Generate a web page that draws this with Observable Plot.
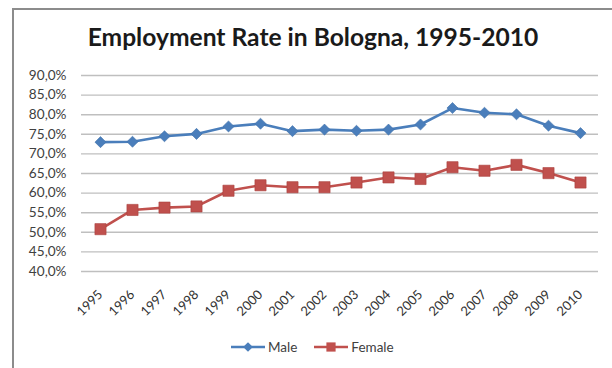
<!DOCTYPE html>
<html>
<head>
<meta charset="utf-8">
<script src="https://cdn.jsdelivr.net/npm/d3@7"></script>
<script src="https://cdn.jsdelivr.net/npm/@observablehq/plot@0.6"></script>
<style>
  html, body { margin: 0; padding: 0; background: #fff; }
  #chart { position: relative; width: 612px; height: 368px; overflow: hidden; font-family: Lato, "Open Sans", sans-serif; }
  #frame { position: absolute; left: 12px; top: 8px; width: 700px; height: 500px;
           border-left: 2px solid #8c8c8c; border-top: 2px solid #8c8c8c; }
  #title { position: absolute; left: 0; width: 626px; top: 25px; line-height: 24px;
           text-align: center; font-size: 24.6px; font-weight: 700; color: #1a1a1a; }
  #plot { position: absolute; left: 0; top: 60px; }
  #legend { position: absolute; left: 231px; top: 338px; height: 18px; display: flex; align-items: center;
            font-size: 13.5px; color: #404040; }
  .item { display: flex; align-items: center; margin-right: 17px; }
  .item svg { margin-right: 3px; }
</style>
</head>
<body>
<div id="chart">
  <div id="frame"></div>
  <div id="title">Employment Rate in Bologna, 1995-2010</div>
  <div id="plot"></div>
  <div id="legend"></div>
</div>
<script>
// Employment rate (%) in Bologna by sex, 1995-2010
const years = ["1995", "1996", "1997", "1998", "1999", "2000", "2001", "2002",
               "2003", "2004", "2005", "2006", "2007", "2008", "2009", "2010"];
const male = [73.0, 73.1, 74.5, 75.1, 77.0, 77.7, 75.8, 76.2,
              75.9, 76.2, 77.5, 81.7, 80.5, 80.1, 77.2, 75.3];
const female = [50.8, 55.7, 56.3, 56.6, 60.6, 62.0, 61.5, 61.5,
                62.7, 64.0, 63.6, 66.6, 65.7, 67.2, 65.1, 62.7];
const yTicks = [40, 45, 50, 55, 60, 65, 70, 75, 80, 85, 90];
const series = ["Male", "Female"];
const colors = ["#4a7ebb", "#c0504d"];

const rows = years.flatMap((year, i) => [
  {year, sex: "Male", rate: male[i]},
  {year, sex: "Female", rate: female[i]}
]);

// Italian-style percentage labels: 90,0%
const pct = d => d.toFixed(1).replace(".", ",") + "%";

const chart = Plot.plot({
  width: 612,
  height: 260,
  marginLeft: 81,
  marginRight: 14,
  marginTop: 15,
  marginBottom: 49,
  style: {fontFamily: "Lato, 'Open Sans', sans-serif", background: "transparent", overflow: "visible"},
  x: {type: "point", domain: years, padding: 0.5, label: null},
  y: {domain: [40, 90], label: null},
  color: {domain: series, range: colors},
  marks: [
    Plot.gridY(yTicks, {stroke: "#bfbfbf", strokeOpacity: 1, strokeWidth: 1.4}),
    Plot.axisY(yTicks, {tickFormat: pct, tickSize: 0, tickPadding: 15, fontSize: 13.6, fill: "#404040", label: null}),
    Plot.axisX({tickSize: 0, tickPadding: 21, tickRotate: -45, fontSize: 13, fill: "#333", label: null}),
    Plot.line(rows, {x: "year", y: "rate", z: "sex", stroke: "sex", strokeWidth: 2.6}),
    Plot.dot(rows.filter(d => d.sex === "Male"), {x: "year", y: "rate", symbol: "diamond2", r: 5, fill: "sex", stroke: "#3f70aa", strokeWidth: 0.6}),
    Plot.dot(rows.filter(d => d.sex === "Female"), {x: "year", y: "rate", symbol: "square", r: 6.3, fill: "sex", stroke: "#a9413e", strokeWidth: 0.6})
  ]
});
document.getElementById("plot").append(chart);

// Legend: line swatch with its marker, then the series name
const legend = d3.select("#legend");
series.forEach((name, i) => {
  const item = legend.append("div").attr("class", "item");
  const sw = item.append("svg").attr("width", 34).attr("height", 14);
  sw.append("line").attr("x1", 0).attr("x2", 34).attr("y1", 7).attr("y2", 7)
    .attr("stroke", colors[i]).attr("stroke-width", 2.6);
  const sym = i === 0 ? d3.symbolDiamond2 : d3.symbolSquare;
  const size = i === 0 ? 60 : 85;
  sw.append("path").attr("d", d3.symbol(sym, size)()).attr("transform", "translate(17,7)")
    .attr("fill", colors[i]);
  item.append("span").text(name);
});
</script>
</body>
</html>
